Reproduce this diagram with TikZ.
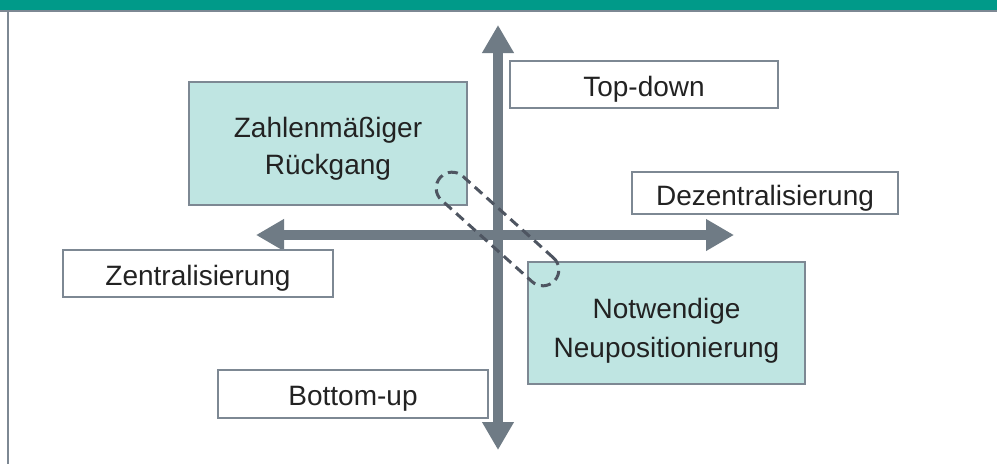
\documentclass[tikz,border=0pt]{standalone}
\usepackage{fontspec}
\setmainfont{Liberation Sans}
\usetikzlibrary{arrows.meta}
\definecolor{barteal}{HTML}{009A89}
\definecolor{boxfill}{HTML}{BFE5E2}
\definecolor{boxline}{HTML}{7D8893}
\definecolor{axisgrey}{HTML}{6F7B85}
\definecolor{dashgrey}{HTML}{4E5561}
\definecolor{txt}{HTML}{222222}
\newcommand\lowertxt[2][5pt]{\raisebox{-#1}[\height][\depth]{#2}}
\tikzset{
  lbl/.style={draw=boxline, line width=1.2pt, fill=white, inner sep=0pt, align=center,
    text=txt, font=\fontsize{28}{37}\selectfont},
  shaded/.style={lbl, fill=boxfill},
  axis/.style={draw=axisgrey, line width=10pt,
    {Triangle[length=28pt,width=30pt]}-{Triangle[length=28pt,width=30pt]}},
  capsule/.style={draw=dashgrey, line width=3pt, dash pattern=on 10pt off 6pt,
    rounded corners=16pt, minimum width=154pt, minimum height=32pt, inner sep=0pt}
}
\begin{document}
\begin{tikzpicture}[x=1pt,y=-1pt]
\useasboundingbox (0,0) rectangle (997,464);
\fill[white] (0,0) rectangle (997,464);
% header bar
\fill[barteal] (0,0) rectangle (997,10);
\fill[boxline] (0,10) rectangle (997,11.5);
\fill[boxline] (7,11) rectangle (8.6,464);
% axes
\coordinate (vtop) at (498,25);
\coordinate (vbot) at (498,450);
\coordinate (hleft) at (256,235);
\coordinate (hright) at (734,235);
\draw[axis] (vbot) -- (vtop);
\draw[axis] (hleft) -- (hright);
% boxes
\node[shaded, minimum width=278pt, minimum height=123pt] (zr) at (328,143.5) {\lowertxt{Zahlenmäßiger}\\\lowertxt{Rückgang}};
\node[lbl, minimum width=268pt, minimum height=47pt] (td) at (644,84.5) {\lowertxt{Top-down}};
\node[lbl, minimum width=266pt, minimum height=42pt] (dz) at (765,193) {\lowertxt{Dezentralisierung}};
\node[lbl, minimum width=270pt, minimum height=47pt] (zt) at (198,273.5) {\lowertxt{Zentralisierung}};
\node[shaded, minimum width=277pt, minimum height=122pt] (nn) at (666.5,323) {\lowertxt[7pt]{Notwendige}\\\lowertxt[9pt]{Neupositionierung}};
\node[lbl, minimum width=270pt, minimum height=48pt] (bu) at (353,394) {\lowertxt{Bottom-up}};
% dashed capsule
\node[capsule, rotate=-42] (cap) at (497.5,229) {};
\end{tikzpicture}
\end{document}
